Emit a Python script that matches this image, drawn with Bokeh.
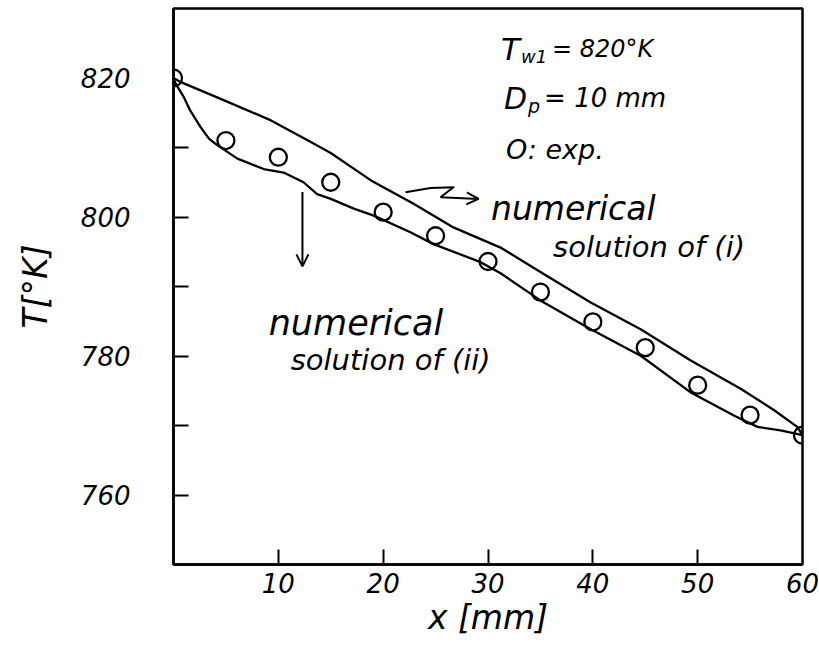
from bokeh.plotting import figure
from bokeh.models import Range1d, FixedTicker, Arrow, OpenHead
from bokeh.core.properties import value
from bokeh.embed import file_html
from bokeh.resources import INLINE

# experimental points
x_exp = [0, 5, 10, 15, 20, 25, 30, 35, 40, 45, 50, 55, 60]
T_exp = [820, 811.0, 808.6, 805.0, 800.7, 797.3, 793.6, 789.2, 784.9, 781.2, 775.8, 771.5, 768.6]

# numerical solution of (i)
x_sol1 = [0, 0.7, 4.5, 9.3, 13.1, 15, 18.8, 22.9, 26.7, 31.2, 35, 39.8, 44.6, 49.3, 54.1, 57.3, 59.5, 60]
T_sol1 = [820, 819.4, 817.0, 813.9, 810.8, 809.2, 805.3, 801.9, 798.5, 795.6, 792.1, 787.7, 783.8,
          779.4, 775.3, 772.2, 769.8, 768.6]

# numerical solution of (ii)
x_sol2 = [0, 0.2, 1.0, 1.6, 2.6, 3.4, 4.2, 6.1, 8.6, 10.5, 12.4, 13.7, 15, 17.2, 19.1, 22.6, 24.8,
          29.3, 31.2, 35, 39.5, 44.6, 49.3, 53.5, 55.7, 57.9, 60]
T_sol2 = [820, 819.2, 817.2, 815.3, 812.9, 811.25, 810.3, 808.4, 806.9, 806.4, 805.0, 803.3, 802.6,
          801.2, 800.2, 797.8, 796.1, 793.5, 791.9, 788.0, 784.1, 780.0, 774.8, 771.4, 769.8, 769.3, 768.6]

x_tick_labels = [10, 20, 30, 40, 50, 60]
x_tick_marks = [10, 20, 30, 40, 50]
y_tick_labels = [760, 780, 800, 820]
y_tick_marks = [760, 770, 780, 790, 800, 810]

FONT = "DejaVu Sans"

p = figure(width=819, height=650, x_range=Range1d(0, 60), y_range=Range1d(750, 830),
           output_backend="svg", toolbar_location=None,
           min_border_left=173, min_border_right=17, min_border_top=8, min_border_bottom=86,
           x_axis_label="x [mm]", y_axis_label="T[°K]")

p.grid.visible = False
p.background_fill_color = "white"
p.border_fill_color = "white"
p.outline_line_color = "black"
p.outline_line_width = 2.5

for ax in (p.xaxis[0], p.yaxis[0]):
    ax.axis_line_color = "black"
    ax.axis_line_width = 2.5
    ax.major_tick_in = 0
    ax.major_tick_out = 0
    ax.minor_tick_in = 15
    ax.minor_tick_out = 0
    ax.minor_tick_line_color = "black"
    ax.minor_tick_line_width = 2
    ax.major_label_text_font = FONT
    ax.major_label_text_font_style = "italic"
    ax.major_label_text_font_size = "26px"
    ax.major_label_text_color = "black"
    ax.axis_label_text_font = FONT
    ax.axis_label_text_font_style = "italic"
    ax.axis_label_text_font_size = "33px"
    ax.axis_label_text_color = "black"

p.xaxis[0].ticker = FixedTicker(ticks=x_tick_labels, minor_ticks=x_tick_marks)
p.yaxis[0].ticker = FixedTicker(ticks=y_tick_labels, minor_ticks=y_tick_marks)
p.yaxis[0].major_label_text_baseline = "bottom"
p.xaxis[0].major_label_standoff = 8
p.xaxis[0].axis_label_standoff = 2
p.yaxis[0].major_label_standoff = 43
p.yaxis[0].axis_label_standoff = 23

# curves
p.line(x_sol1, T_sol1, line_color="black", line_width=2.3, line_join="round")
p.line(x_sol2, T_sol2, line_color="black", line_width=2.3, line_join="round")

# experimental points
p.scatter(x_exp, T_exp, marker="circle", size=17, fill_color=None,
          line_color="black", line_width=2.3)

# annotation texts
def txt(x, y, s, size):
    p.text(x=[x], y=[y], text=[s], text_font=value(FONT), text_font_style="italic",
           text_font_size=size, text_color="black", text_baseline="alphabetic", text_align="left")

txt(31.24, 824.2, "T", "31px")
txt(33.15, 823.1, "w1", "18px")
txt(36.1, 824.2, "= 820°K", "24px")
txt(31.53, 817.12, "D", "30px")
txt(33.82, 815.96, "p", "19px")
txt(35.35, 817.12, "= 10 mm", "26px")
txt(31.72, 809.65, "O: exp.", "27px")
txt(30.29, 801.16, "numerical", "33px")
txt(36.21, 795.72, "solution of (i)", "29px")
txt(9.08, 784.76, "numerical", "35px")
txt(11.18, 779.42, "solution of (ii)", "29px")

# arrow to curve (i)
p.line([22.13, 24.52, 26.71, 25.47], [803.57, 804.17, 804.29, 802.85],
       line_color="black", line_width=2, line_join="round")
p.add_layout(Arrow(end=OpenHead(size=12, line_width=2, line_color="black"),
                   x_start=25.47, y_start=802.85, x_end=29.1, y_end=802.6,
                   line_width=2, line_color="black"))
# arrow to curve (ii)
p.add_layout(Arrow(end=OpenHead(size=12, line_width=2, line_color="black"),
                   x_start=12.3, y_start=803.6, x_end=12.3, y_end=792.9,
                   line_width=2, line_color="black"))

open("out.html", "w").write(file_html(p, INLINE))
